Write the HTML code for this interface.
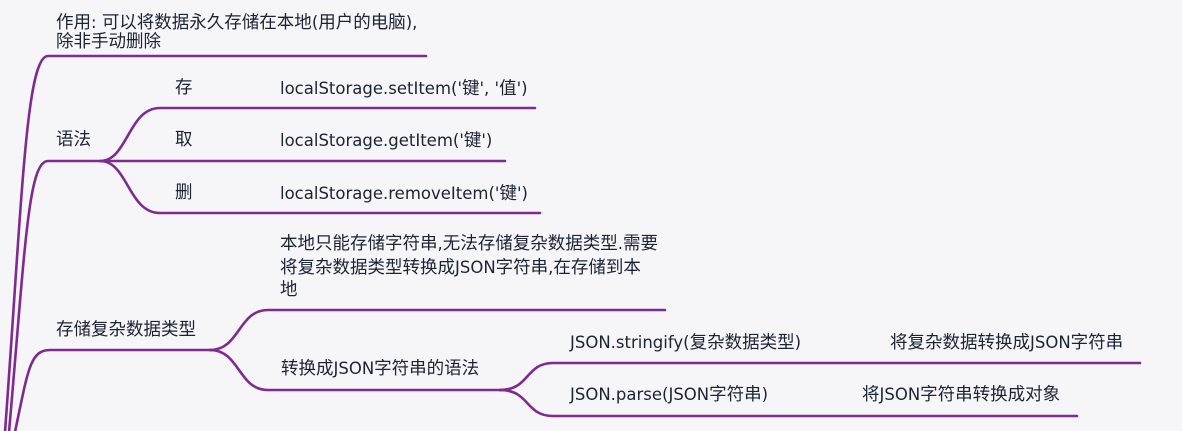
<!DOCTYPE html>
<html><head><meta charset="utf-8"><style>
html,body{margin:0;padding:0;background:#f6f6f9;}
#c{position:relative;width:1182px;height:431px;overflow:hidden;background:#f6f6f9;font-family:"DejaVu Sans","Noto Sans CJK SC",sans-serif;font-size:17.5px;color:#1c2333;}
.t{position:absolute;white-space:nowrap;line-height:21px;}
.l{font-size:16.5px;}
svg{position:absolute;left:0;top:0;}
</style></head><body><div id="c">
<svg width="1182" height="431"><g fill="none" stroke="#7e2b90" stroke-width="2.6" stroke-linecap="round">
<path d="M5 432 C22 200 26 56 48 56 L426 56"/>
<path d="M9 432 C25 250 28 161 48 161 L505 161"/>
<path d="M15 432 C28 370 30 350 50 350 L215 350"/>
<path d="M100 161 C128 161 128 108 160 108 L535 108"/>
<path d="M100 161 C128 161 128 213 160 213 L540 213"/>
<path d="M210 350 C240 350 238 310 268 310 L665 310"/>
<path d="M210 350 C240 350 238 390 268 390 L505 390"/>
<path d="M500 390 C530 390 525 363 553 363 L1140 363"/>
<path d="M500 390 C530 390 525 416 553 416 L1077 416"/>
</g></svg>
<div class="t" style="left:56px;top:12px;">作用<span class="l">: </span>可以将数据永久存储在本地<span class="l">(</span>用户的电脑<span class="l">),</span></div>
<div class="t" style="left:56px;top:32px;">除非手动删除</div>
<div class="t" style="left:56px;top:130px;">语法</div>
<div class="t" style="left:175px;top:78px;">存</div>
<div class="t" style="left:175px;top:130px;">取</div>
<div class="t" style="left:175px;top:183px;">删</div>
<div class="t" style="left:280px;top:78px;"><span class="l">localStorage.setItem('</span>键<span class="l">', '</span>值<span class="l">')</span></div>
<div class="t" style="left:280px;top:130px;"><span class="l">localStorage.getItem('</span>键<span class="l">')</span></div>
<div class="t" style="left:280px;top:183px;"><span class="l">localStorage.removeItem('</span>键<span class="l">')</span></div>
<div class="t" style="left:280px;top:233px;">本地只能存储字符串<span class="l">,</span>无法存储复杂数据类型<span class="l">.</span>需要</div>
<div class="t" style="left:280px;top:257px;">将复杂数据类型转换成<span class="l">JSON</span>字符串<span class="l">,</span>在存储到本</div>
<div class="t" style="left:280px;top:280px;">地</div>
<div class="t" style="left:56px;top:320px;">存储复杂数据类型</div>
<div class="t" style="left:281px;top:358px;">转换成<span class="l">JSON</span>字符串的语法</div>
<div class="t" style="left:570px;top:332px;"><span class="l">JSON.stringify(</span>复杂数据类型<span class="l">)</span></div>
<div class="t" style="left:890px;top:332px;">将复杂数据转换成<span class="l">JSON</span>字符串</div>
<div class="t" style="left:570px;top:384px;"><span class="l">JSON.parse(JSON</span>字符串<span class="l">)</span></div>
<div class="t" style="left:862px;top:384px;">将<span class="l">JSON</span>字符串转换成对象</div>
</div></body></html>
